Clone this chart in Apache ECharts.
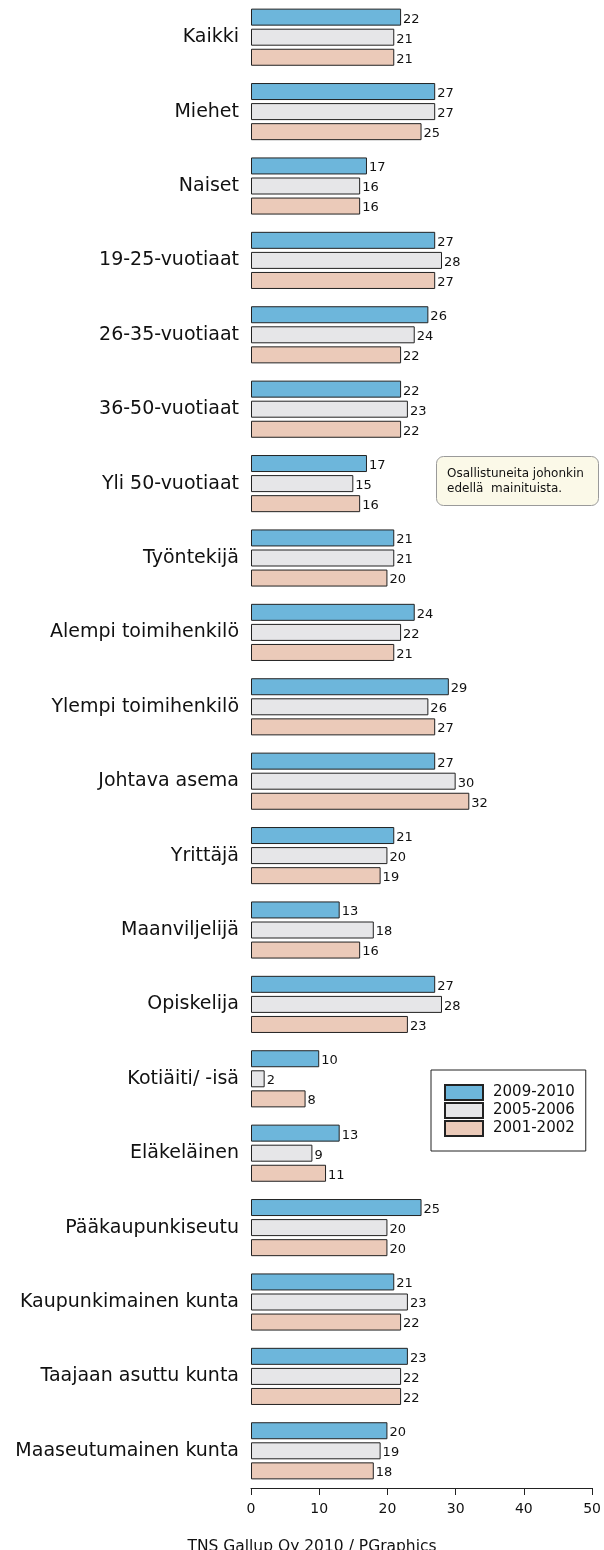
<!DOCTYPE html>
<html>
<head>
<meta charset="utf-8">
<script src="https://cdn.jsdelivr.net/npm/echarts@6/dist/echarts.min.js"></script>
<style>
  html, body { margin: 0; padding: 0; background: #fff; }
  #chart { width: 604px; height: 1550px; }
</style>
</head>
<body>
<div id="chart"></div>
<script>
const categories = [
  'Kaikki', 'Miehet', 'Naiset', '19-25-vuotiaat', '26-35-vuotiaat',
  '36-50-vuotiaat', 'Yli 50-vuotiaat', 'Työntekijä', 'Alempi toimihenkilö',
  'Ylempi toimihenkilö', 'Johtava asema', 'Yrittäjä', 'Maanviljelijä',
  'Opiskelija', 'Kotiäiti/ -isä', 'Eläkeläinen', 'Pääkaupunkiseutu',
  'Kaupunkimainen kunta', 'Taajaan asuttu kunta', 'Maaseutumainen kunta'
];
const seriesNames = ['2009-2010', '2005-2006', '2001-2002'];
const values2009 = [22, 27, 17, 27, 26, 22, 17, 21, 24, 29, 27, 21, 13, 27, 10, 13, 25, 21, 23, 20];
const values2005 = [21, 27, 16, 28, 24, 23, 15, 21, 22, 26, 30, 20, 18, 28, 2, 9, 20, 23, 22, 19];
const values2001 = [21, 25, 16, 27, 22, 22, 16, 20, 21, 27, 32, 19, 16, 23, 8, 11, 20, 22, 22, 18];
const xTicks = { min: 0, max: 50, interval: 10 };
const colors = ['#6db6db', '#e6e6e8', '#ebcab9'];
const note = ['Osallistuneita johonkin', 'edellä  mainituista.'];
const footer = 'TNS Gallup Oy 2010 / PGraphics';

const font = 'DejaVu Sans';
const chart = echarts.init(document.getElementById('chart'));

function makeSeries(name, data, color) {
  return {
    name: name,
    type: 'bar',
    data: data,
    barWidth: 17,
    barGap: '18%',
    itemStyle: { color: color, borderColor: '#222', borderWidth: 1 },
    label: {
      show: true,
      position: 'right',
      distance: 2,
      offset: [0, 2],
      color: '#111',
      fontFamily: font,
      fontSize: 13
    },
    emphasis: { disabled: true },
    animation: false
  };
}

chart.setOption({
  animation: false,
  grid: { left: 251, right: 8, top: -2, height: 1490, containLabel: false },
  xAxis: {
    type: 'value',
    min: xTicks.min,
    max: xTicks.max,
    interval: xTicks.interval,
    axisLine: { show: true, lineStyle: { color: '#222', width: 1 } },
    axisTick: { show: true, length: 7, lineStyle: { color: '#222' } },
    axisLabel: { margin: 14, color: '#111', fontFamily: font, fontSize: 14 },
    splitLine: { show: false }
  },
  yAxis: {
    type: 'category',
    data: categories,
    inverse: true,
    axisLine: { show: false },
    axisTick: { show: false },
    axisLabel: { margin: 12, color: '#111', fontFamily: font, fontSize: 19 }
  },
  legend: {
    data: seriesNames,
    orient: 'vertical',
    left: 431,
    top: 1070,
    padding: [14, 11, 14, 13],
    itemWidth: 38,
    itemHeight: 15,
    itemGap: 1,
    icon: 'rect',
    borderColor: '#222',
    borderWidth: 1,
    borderRadius: 0,
    textStyle: { color: '#111', fontFamily: font, fontSize: 15, padding: [0, 0, 0, 5] },
    selectedMode: false
  },
  graphic: [
    {
      type: 'rect',
      left: 436,
      top: 456,
      shape: { width: 162, height: 49, r: 7 },
      style: { fill: '#fbf9e8', stroke: '#9a9a9a', lineWidth: 1 },
      silent: true
    },
    {
      type: 'text',
      left: 447,
      top: 466,
      style: {
        text: note.join('\n'),
        fill: '#111',
        font: '12px "DejaVu Sans"',
        lineHeight: 15
      },
      silent: true
    },
    {
      type: 'text',
      x: 312,
      y: 1547,
      style: {
        text: footer,
        fill: '#111',
        font: '15.5px "DejaVu Sans"',
        textAlign: 'center',
        textVerticalAlign: 'middle'
      },
      silent: true
    }
  ],
  series: [
    makeSeries(seriesNames[0], values2009, colors[0]),
    makeSeries(seriesNames[1], values2005, colors[1]),
    makeSeries(seriesNames[2], values2001, colors[2])
  ]
});
</script>
</body>
</html>
